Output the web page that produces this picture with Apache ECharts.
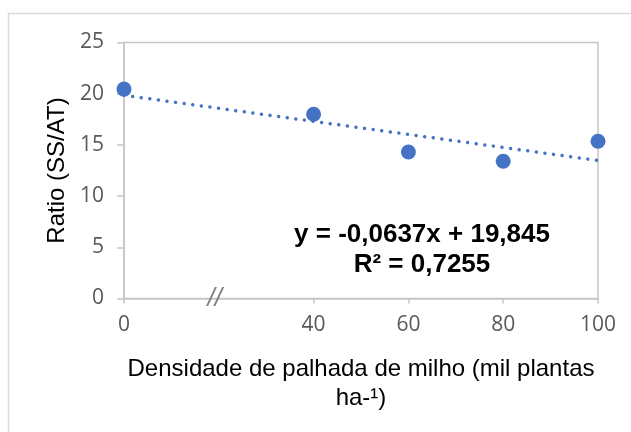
<!DOCTYPE html>
<html>
<head>
<meta charset="utf-8">
<script src="https://cdn.jsdelivr.net/npm/echarts@6/dist/echarts.min.js"></script>
<style>
html,body{margin:0;padding:0;background:#fff;}
#c{width:631px;height:432px;}
</style>
</head>
<body>
<div id="c"></div>
<script>
const xValues = [0, 40, 60, 80, 100];
const ratio = [20.45, 18.0, 14.3, 13.4, 15.35];
const trendX = [0, 100];
const trendY = [19.845, 13.475];
const xTickLabels = [0, 40, 60, 80, 100];
const breakAt = 20;
const equationLines = ['y = -0,0637x + 19,845', 'R² = 0,7255'];
const xName = 'Densidade de palhada de milho (mil plantas\nha-¹)';
const yName = 'Ratio (SS/AT)';

const chart = echarts.init(document.getElementById('c'));
const axisColor = '#c6c6c6';
const option = {
  animation: false,
  backgroundColor: '#fff',
  grid: {left: 124, right: 33, top: 42.5, bottom: 133.5, show: true, borderColor: axisColor, borderWidth: 1.5},
  xAxis: {
    type: 'value', min: 0, max: 100, interval: 20,
    axisLine: {show: true, onZero: false, lineStyle: {color: axisColor, width: 1.5}},
    axisTick: {show: true, length: 5, customValues: xTickLabels, lineStyle: {color: axisColor, width: 1.5}},
    axisLabel: {customValues: xTickLabels, margin: 16, color: '#595959', fontFamily: 'Open Sans', fontSize: 21},
    splitLine: {show: false},
    name: xName, nameLocation: 'middle', nameGap: 56,
    nameTextStyle: {color: '#000', fontFamily: 'Liberation Sans', fontSize: 24, lineHeight: 29}
  },
  yAxis: {
    type: 'value', min: 0, max: 25, interval: 5,
    axisLine: {show: true, lineStyle: {color: axisColor, width: 1.5}},
    axisTick: {show: true, length: 7, lineStyle: {color: axisColor, width: 1.5}},
    axisLabel: {margin: 20, color: '#595959', fontFamily: 'Open Sans', fontSize: 21},
    splitLine: {show: false},
    name: yName, nameLocation: 'middle', nameGap: 50,
    nameTextStyle: {color: '#000', fontFamily: 'Liberation Sans', fontSize: 24}
  },
  series: [
    {
      type: 'line', data: trendX.map((x, i) => [x, trendY[i]]),
      symbol: 'none', z: 2,
      lineStyle: {color: '#4472C4', width: 3.5, type: [0.01, 8.66], cap: 'round'}
    },
    {
      type: 'scatter', data: xValues.map((x, i) => [x, ratio[i]]),
      symbolSize: 15, z: 3,
      itemStyle: {color: '#4472C4', opacity: 1}
    }
  ]
};
chart.setOption(option);
const bp = chart.convertToPixel({xAxisIndex: 0, yAxisIndex: 0}, [breakAt, 0]);
chart.setOption({
  graphic: [
    {type: 'rect', shape: {x: 8.5, y: 13.5, width: 700, height: 500}, style: {fill: 'none', stroke: '#d9d9d9', lineWidth: 1.5}, silent: true},
    {type: 'text', x: bp[0] - 4, y: bp[1], style: {text: '//', fill: '#7f7f7f', font: 'italic 26px "Liberation Sans"', align: 'center', verticalAlign: 'middle'}, z: 10},
    {type: 'text', x: 422, y: 235, style: {text: equationLines[0], fill: '#000', font: 'bold 26px "Liberation Sans"', align: 'center', verticalAlign: 'middle'}, z: 10},
    {type: 'text', x: 422, y: 265, style: {text: equationLines[1], fill: '#000', font: 'bold 26px "Liberation Sans"', align: 'center', verticalAlign: 'middle'}, z: 10}
  ]
});
</script>
</body>
</html>
